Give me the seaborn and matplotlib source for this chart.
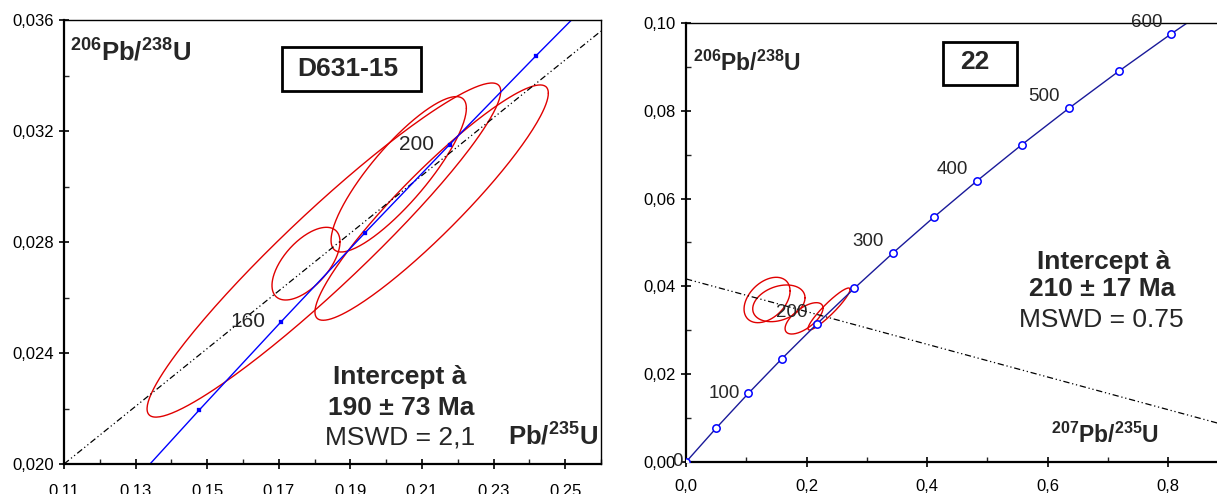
import numpy as np
import seaborn as sns
import matplotlib.pyplot as plt
from matplotlib.patches import Rectangle
from matplotlib.ticker import MultipleLocator, FuncFormatter

sns.set_style('ticks')
plt.rcParams['font.family'] = ['Liberation Sans', 'DejaVu Sans']
plt.rcParams['mathtext.fontset'] = 'custom'
plt.rcParams['mathtext.rm'] = 'Liberation Sans'
plt.rcParams['mathtext.bf'] = 'Liberation Sans:bold'

## left sample D631-15 : concordia ticks (Ma), 207/235 and 206/238
left_ages = [120, 140, 160, 180, 200, 220, 240]
left_conc_x = [0.12545, 0.14784, 0.17068, 0.19396, 0.21771, 0.24190, 0.26665]
left_conc_y = [0.018789, 0.021955, 0.025131, 0.028316, 0.031511, 0.034717, 0.037932]
left_labels = [160, 200]
left_disc_x = [0.11, 0.26]
left_disc_y = [0.0200, 0.0356]
# error ellipses: centre, half range in x and y, correlation
left_ell_x = [0.1826, 0.1776, 0.2035, 0.2127]
left_ell_y = [0.02771, 0.02722, 0.03044, 0.02942]
left_ell_sx = [0.0494, 0.0095, 0.0189, 0.0326]
left_ell_sy = [0.00602, 0.00131, 0.0028, 0.00424]
left_ell_rho = [0.95, 0.6, 0.85, 0.93]

## right sample 22
right_ages = [0, 50, 100, 150, 200, 250, 300, 350, 400, 450, 500, 550, 600, 650]
right_conc_x = [0.0, 0.05047, 0.10350, 0.15919, 0.21771, 0.27918, 0.34372,
                0.41156, 0.48280, 0.55764, 0.63624, 0.71880, 0.80552, 0.89678]
right_conc_y = [0.0, 0.007786, 0.015633, 0.023542, 0.031511, 0.039543, 0.047638,
                0.055795, 0.064016, 0.072300, 0.080650, 0.089064, 0.097544, 0.10609]
right_labels = [0, 100, 200, 300, 400, 500, 600]
right_disc_x = [0.0, 0.9]
right_disc_y = [0.0417, 0.0082]
right_ell_x = [0.1345, 0.1541, 0.1959, 0.2374]
right_ell_y = [0.0369, 0.03614, 0.03272, 0.03485]
right_ell_sx = [0.0382, 0.0434, 0.0315, 0.0349]
right_ell_sy = [0.00517, 0.00418, 0.00357, 0.00478]
right_ell_rho = [0.4, 0.3, 0.65, 0.93]


def ellipse(cx, cy, sx, sy, rho, n=240):
    t = np.linspace(0, 2 * np.pi, n)
    return cx + sx * np.cos(t), cy + sy * (rho * np.cos(t) + np.sqrt(1 - rho ** 2) * np.sin(t))


def style_axes(ax, xmaj, xmin, ymaj, ymin, xfmt, yfmt, xpad):
    ax.xaxis.set_major_locator(MultipleLocator(xmaj))
    ax.xaxis.set_minor_locator(MultipleLocator(xmin))
    ax.yaxis.set_major_locator(MultipleLocator(ymaj))
    ax.yaxis.set_minor_locator(MultipleLocator(ymin))
    ax.xaxis.set_major_formatter(FuncFormatter(xfmt))
    ax.yaxis.set_major_formatter(FuncFormatter(yfmt))
    ax.tick_params(which='major', direction='inout', length=7, width=1.2,
                   labelsize=12, colors='black')
    ax.tick_params(which='minor', direction='in', length=3.5, width=1.0)
    ax.tick_params(axis='x', which='major', pad=xpad)
    ax.tick_params(axis='y', which='major', pad=4)
    for s in ['left', 'bottom']:
        ax.spines[s].set_linewidth(1.6)
    for s in ['top', 'right']:
        ax.spines[s].set_linewidth(1.0)
    for s in ax.spines.values():
        s.set_color('black')
    ax.set_xlabel('')
    ax.set_ylabel('')


fig = plt.figure(figsize=(12.17, 4.94), dpi=100)
ax1 = fig.add_axes([0.0526, 0.0607, 0.4412, 0.8988])
ax2 = fig.add_axes([0.5637, 0.0648, 0.4363, 0.8887])

dashdot = (0, (5, 2.2, 1, 2.2, 1, 2.2))

# ---- left panel
for cx, cy, sx, sy, r in zip(left_ell_x, left_ell_y, left_ell_sx, left_ell_sy, left_ell_rho):
    ex, ey = ellipse(cx, cy, sx, sy, r)
    ax1.plot(ex, ey, color='#e00000', lw=1.0)
ax1.plot(left_disc_x, left_disc_y, color='black', lw=0.9, linestyle=dashdot)
sns.lineplot(x=left_conc_x, y=left_conc_y, sort=False, ax=ax1, color='#0000ff', lw=1.0)
sns.scatterplot(x=left_conc_x, y=left_conc_y, ax=ax1, color='#0000ff', marker='s',
                s=6, edgecolor='#0000ff', zorder=3)
for age in left_labels:
    i = left_ages.index(age)
    ax1.annotate(str(age), (left_conc_x[i], left_conc_y[i]), xytext=(-24, 0),
                 textcoords='offset points', ha='center', va='center', fontsize=15)
ax1.set_xlim(0.11, 0.26)
ax1.set_ylim(0.020, 0.036)
style_axes(ax1, 0.02, 0.01, 0.004, 0.002,
           lambda v, p: f'{v:.2f}', lambda v, p: f'{v:.3f}'.replace('.', ','), 11)
ax1.xaxis.set_major_locator(plt.FixedLocator([0.11, 0.13, 0.15, 0.17, 0.19, 0.21, 0.23, 0.25]))
ax1.xaxis.set_minor_locator(plt.FixedLocator([0.12, 0.14, 0.16, 0.18, 0.20, 0.22, 0.24, 0.26]))

ax1.text(0.011, 0.9077, r'$\mathbf{^{206}Pb/^{238}U}$', transform=ax1.transAxes,
         fontsize=18.5, ha='left', va='baseline')
ax1.add_patch(Rectangle((0.406, 0.840), 0.259, 0.099, transform=ax1.transAxes,
                        fill=False, ec='black', lw=2, zorder=4))
ax1.text(0.529, 0.874, 'D631-15', transform=ax1.transAxes, fontsize=19,
         fontweight='bold', ha='center', va='baseline')
ax1.text(0.626, 0.180, 'Intercept à', transform=ax1.transAxes, fontsize=19,
         fontweight='bold', ha='center', va='baseline')
ax1.text(0.628, 0.110, '190 ± 73 Ma', transform=ax1.transAxes, fontsize=19,
         fontweight='bold', ha='center', va='baseline')
ax1.text(0.625, 0.045, 'MSWD = 2,1', transform=ax1.transAxes, fontsize=19,
         ha='center', va='baseline')
ax1.text(0.827, 0.043, r'$\mathbf{Pb/^{235}U}$', transform=ax1.transAxes,
         fontsize=18.5, ha='left', va='baseline')

# ---- right panel
for cx, cy, sx, sy, r in zip(right_ell_x, right_ell_y, right_ell_sx, right_ell_sy, right_ell_rho):
    ex, ey = ellipse(cx, cy, sx, sy, r)
    ax2.plot(ex, ey, color='#e00000', lw=1.0)
ax2.plot(right_disc_x, right_disc_y, color='black', lw=0.9, linestyle=dashdot)
sns.lineplot(x=right_conc_x, y=right_conc_y, sort=False, ax=ax2, color='#1a1a9a', lw=1.0)
sns.scatterplot(x=right_conc_x, y=right_conc_y, ax=ax2, marker='o', s=28,
                facecolor='white', edgecolor='#0000ff', linewidth=1.1, zorder=3)
for age in right_labels:
    i = right_ages.index(age)
    off = (-18, 8) if age >= 200 else ((-17, 0) if age == 100 else (-6, 0))
    ax2.annotate(str(age), (right_conc_x[i], right_conc_y[i]), xytext=off,
                 textcoords='offset points', ha='center', va='center', fontsize=13.5)
ax2.set_xlim(0, 0.8813)
ax2.set_ylim(0, 0.10)
style_axes(ax2, 0.2, 0.1, 0.02, 0.01,
           lambda v, p: f'{v:.1f}'.replace('.', ','), lambda v, p: f'{v:.2f}'.replace('.', ','), 9)
ax2.spines['right'].set_visible(False)

ax2.text(0.013, 0.891, r'$\mathbf{^{206}Pb/^{238}U}$', transform=ax2.transAxes,
         fontsize=16.5, ha='left', va='baseline')
ax2.add_patch(Rectangle((0.484, 0.859), 0.139, 0.098, transform=ax2.transAxes,
                        fill=False, ec='black', lw=2, zorder=4))
ax2.text(0.543, 0.895, '22', transform=ax2.transAxes, fontsize=19,
         fontweight='bold', ha='center', va='baseline')
ax2.text(0.787, 0.440, 'Intercept à', transform=ax2.transAxes, fontsize=19,
         fontweight='bold', ha='center', va='baseline')
ax2.text(0.783, 0.378, '210 ± 17 Ma', transform=ax2.transAxes, fontsize=19,
         fontweight='bold', ha='center', va='baseline')
ax2.text(0.782, 0.308, 'MSWD = 0.75', transform=ax2.transAxes, fontsize=19,
         ha='center', va='baseline')
ax2.text(0.789, 0.043, r'$\mathbf{^{207}Pb/^{235}U}$', transform=ax2.transAxes,
         fontsize=16.5, ha='center', va='baseline')

fig.savefig('out.png', dpi=100)
